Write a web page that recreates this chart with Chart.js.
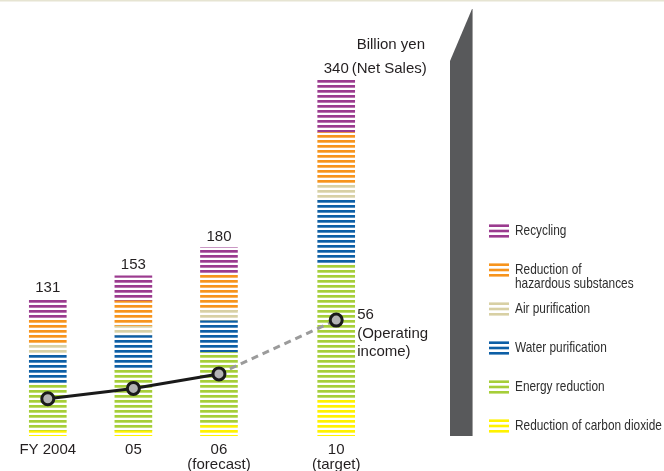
<!DOCTYPE html>
<html><head><meta charset="utf-8">
<script src="https://cdn.jsdelivr.net/npm/chart.js@4/dist/chart.umd.min.js"></script>
<style>html,body{margin:0;padding:0;background:#fff}#wrap{width:664px;height:471px;position:relative}</style>
</head><body><div id="wrap"><canvas id="c" width="664" height="471"></canvas></div>
<script>
// ---- data ----
const categories = ['FY 2004', '05', '06', '10'];
const categoryNotes = ['', '', '(forecast)', '(target)'];
const co2Reduction = [5, 5, 10, 35];
const energyReduction = [44, 58, 70, 130];
const waterPurification = [29, 33, 30, 60];
const airPurification = [10, 9, 10, 15];
const hazardousReduction = [24, 24, 35, 50];
const recycling = [19, 24, 25, 50];
const netSales = [131, 153, 180, 340];
const operatingIncome = [18, 23, 30, 56];
const seriesNames = ['Reduction of carbon dioxide', 'Energy reduction', 'Water purification', 'Air purification', 'Reduction of hazardous substances', 'Recycling'];
const unitLabel = 'Billion yen';
const netSalesNote = '(Net Sales)';
const operatingNote = ['(Operating', 'income)'];

const seriesColors = ['#fff200', '#a6ce39', '#0d5fa6', '#d8d0a4', '#f7941d', '#9b3b8f'];
const TXT = '#231f20';
const FONT = '"Liberation Sans", Arial, sans-serif';

const canvas = document.getElementById('c');
const ctx0 = canvas.getContext('2d');
function stripePattern(color) {
  const c = document.createElement('canvas');
  c.width = 8; c.height = 5;
  const g = c.getContext('2d');
  g.fillStyle = color;
  g.fillRect(0, 0, 8, 2);
  g.globalAlpha = 0.7;
  g.fillRect(0, 2, 8, 1);
  return ctx0.createPattern(c, 'repeat');
}

// axis break between 06 and 10
const xSlot = i => i + (i === 3 ? 0.37 : 0);

const barSeries = [co2Reduction, energyReduction, waterPurification, airPurification, hazardousReduction, recycling];
const datasets = barSeries.map((arr, k) => ({
  type: 'bar',
  label: seriesNames[k],
  data: arr.map((v, i) => ({ x: xSlot(i), y: v })),
  backgroundColor: stripePattern(seriesColors[k]),
  borderWidth: 0,
  barThickness: 37,
  stack: 's',
  yAxisID: 'y',
  order: 1
}));
datasets.push({
  type: 'line',
  label: 'Operating income',
  data: operatingIncome.map((v, i) => ({ x: xSlot(i), y: v })),
  yAxisID: 'y1',
  order: 0,
  borderColor: '#1a1a1a',
  borderWidth: 3,
  pointRadius: 6,
  pointBorderWidth: 3,
  pointBackgroundColor: '#b3b3b3',
  pointBorderColor: '#1a1a1a',
  segment: {
    borderColor: c => c.p1DataIndex === 3 ? '#9b9b9b' : undefined,
    borderDash: c => c.p1DataIndex === 3 ? [7, 5] : undefined
  }
});

const decor = {
  id: 'decor',
  beforeDraw(chart) {
    const ctx = chart.ctx;
    ctx.save();
    ctx.fillStyle = '#e6e4d2';
    ctx.fillRect(0, 0, chart.width, 1.5);
    ctx.fillStyle = '#58595b';
    ctx.beginPath();
    ctx.moveTo(450, 61); ctx.lineTo(472, 9); ctx.lineTo(472, 436); ctx.lineTo(450, 436);
    ctx.closePath(); ctx.fill();
    ctx.fillStyle = '#a0a0a0';
    ctx.fillRect(472, 9, 1, 427);
    ctx.restore();
  },
  afterDraw(chart) {
    const ctx = chart.ctx;
    const xs = chart.scales.x, ys = chart.scales.y;
    ctx.save();
    ctx.fillStyle = TXT;
    ctx.font = '15px ' + FONT;
    ctx.textBaseline = 'middle';
    ctx.textAlign = 'right';
    ctx.fillText(unitLabel, 425, 45);
    netSales.forEach((v, i) => {
      const px = xs.getPixelForValue(xSlot(i));
      const py = ys.getPixelForValue(v) - 11;
      ctx.textAlign = 'center';
      ctx.fillText(String(v), px, py);
      if (i === netSales.length - 1) {
        const w = ctx.measureText(String(v)).width;
        ctx.textAlign = 'left';
        ctx.fillText(netSalesNote, px + w / 2 + 3, py);
      }
    });
    const meta = chart.getDatasetMeta(datasets.length - 1);
    const last = meta.data[meta.data.length - 1];
    ctx.textAlign = 'left';
    const oi = operatingIncome[operatingIncome.length - 1];
    [String(oi)].concat(operatingNote).forEach((t, j) => {
      ctx.fillText(t, last.x + 21, last.y - 5 + j * 18.5);
    });
    // legend (condensed text)
    const order = [5, 4, 3, 2, 1, 0];
    const sx = 0.79;
    ctx.font = '15px ' + FONT;
    order.forEach((k, r) => {
      const cy = 231 + r * 39;
      ctx.fillStyle = seriesColors[k];
      for (let s = -1; s <= 1; s++) ctx.fillRect(489, cy + s * 5.3 - 1.3, 20, 2.6);
      ctx.fillStyle = '#2e2e2e';
      const name = seriesNames[k];
      let lines = [name];
      if (ctx.measureText(name).width * sx > 155) {
        const idx = name.indexOf(' ', 10);
        lines = [name.slice(0, idx), name.slice(idx + 1)];
      }
      lines.forEach((t, j) => {
        ctx.save();
        ctx.translate(515, cy + j * 13.5);
        ctx.scale(sx, 1);
        ctx.fillText(t, 0, 0);
        ctx.restore();
      });
    });
    ctx.restore();
  }
};

new Chart(canvas, {
  data: { datasets },
  options: {
    responsive: false,
    animation: false,
    devicePixelRatio: 1,
    layout: { autoPadding: false, padding: { top: 80, left: 5, right: 285, bottom: -7 } },
    plugins: { legend: { display: false }, tooltip: { enabled: false } },
    scales: {
      x: {
        type: 'linear', min: -0.5, max: 3.87, offset: false,
        grid: { display: false, drawTicks: false }, border: { display: false },
        afterBuildTicks: axis => { axis.ticks = categories.map((c, i) => ({ value: xSlot(i) })); },
        ticks: {
          padding: 6, color: TXT, font: { size: 15, family: FONT, lineHeight: 1.0 },
          maxRotation: 0, autoSkip: false,
          callback: (v, i) => categoryNotes[i] ? [categories[i], categoryNotes[i]] : categories[i]
        }
      },
      y: { display: false, stacked: true, min: 0, max: 340 },
      y1: { display: false, min: 0, max: 172 }
    }
  },
  plugins: [decor]
});
</script></body></html>
